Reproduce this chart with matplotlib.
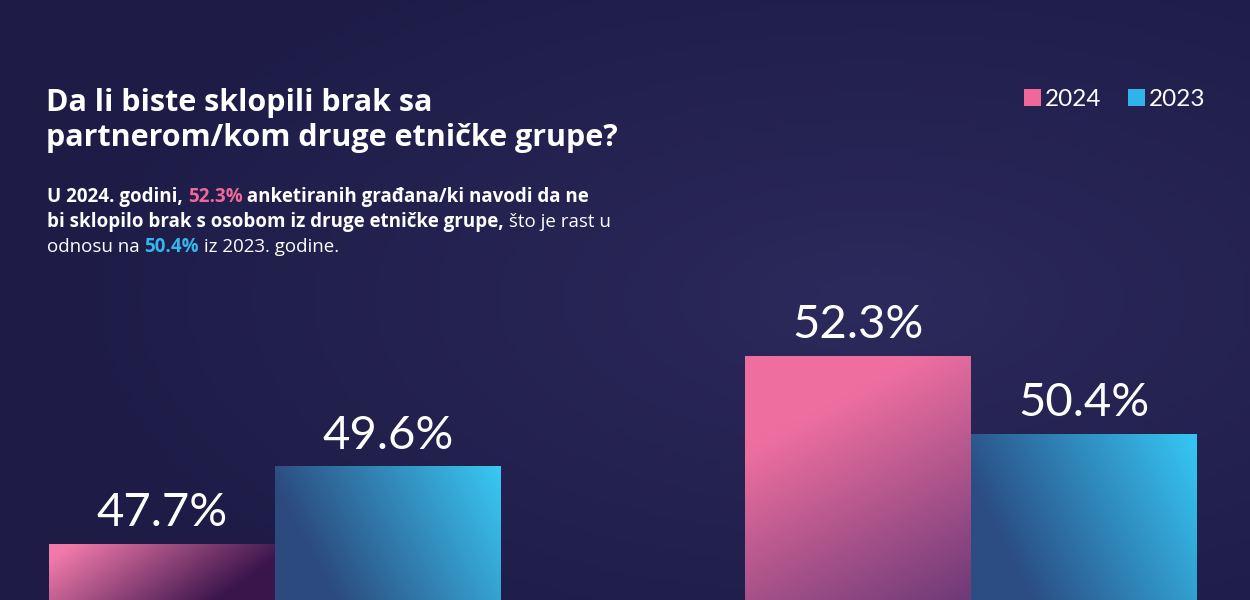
import numpy as np
import matplotlib
matplotlib.use("Agg")
import matplotlib.pyplot as plt
from matplotlib.colors import to_rgb

# data
groups = ["Da", "Ne"]
values_2024 = [47.7, 52.3]
values_2023 = [49.6, 50.4]
series_labels = ["2024", "2023"]

title = "Da li biste sklopili brak sa\npartnerom/kom druge etničke grupe?"
subtitle_lines = [
    [("U 2024. godini, ", "bold", "white"), ("52.3%", "bold", "pink"),
     (" anketiranih građana/ki navodi da ne", "bold", "white")],
    [("bi sklopilo brak s osobom iz druge etničke grupe,", "bold", "white"),
     (" što je rast u", "normal", "white")],
    [("odnosu na ", "normal", "white"), ("50.4%", "bold", "blue"),
     (" iz 2023. godine.", "normal", "white")],
]

BG = "#221f4d"
PINK = "#f0689a"
BLUE = "#2fb3ea"
text_colors = {"white": "white", "pink": "#f0689a", "blue": "#35b6ec"}

fig = plt.figure(figsize=(12.5, 6), dpi=100)
fig.patch.set_facecolor(BG)

# subtle background glow
bg_ax = fig.add_axes([0, 0, 1, 1], zorder=0)
bg_ax.axis("off")
yy, xx = np.mgrid[0:1:120j, 0:1:250j]
r = np.sqrt(((xx - 0.7) / 0.65) ** 2 + ((yy - 0.5) / 0.65) ** 2)
w = np.clip(1 - r, 0, 1)[..., None]
base = np.array(to_rgb("#1e1c47"))
glow = np.array(to_rgb("#2c295c"))
bg_ax.imshow(base * (1 - w) + glow * w, extent=[0, 1, 0, 1], aspect="auto")
bg_ax.set_xlim(0, 1)
bg_ax.set_ylim(0, 1)

ax = fig.add_axes([0, 0, 1, 1], zorder=1)
ax.patch.set_alpha(0)
ax.axis("off")

x = np.arange(len(groups))
width = 0.3247
b24 = ax.bar(x - width / 2, values_2024, width, color=PINK, label=series_labels[0])
b23 = ax.bar(x + width / 2, values_2023, width, color=BLUE, label=series_labels[1])
ax.set_xlim(-0.395, 1.401)
ax.set_ylim(46.33, 61.0)


def gradient_fill(bar, c0, c1, a, b, mid=None):
    x0 = bar.get_x()
    x1 = x0 + bar.get_width()
    ylo = ax.get_ylim()[0]
    ytop = bar.get_height()
    v, u = np.mgrid[0:1:80j, 0:1:80j]
    t = np.clip(a * u + b * v + (mid or 0), 0, 1)[..., None]
    img = np.array(to_rgb(c0)) * (1 - t) + np.array(to_rgb(c1)) * t
    im = ax.imshow(img, extent=[x0, x1, ylo, ytop], aspect="auto",
                   origin="upper", zorder=2)
    im.set_clip_path(bar)


# per-bar gradients (pink: bright -> dark purple, blue: dark steel -> cyan)
gradient_fill(b24[0], "#f27aaa", "#3a154c", 1.0, 0.35, -0.1)
gradient_fill(b24[1], "#ee6f9f", "#6e3a78", 0.45, 0.9, -0.35)
gradient_fill(b23[0], "#2c4a7e", "#39c8f4", 0.95, -0.3, 0.05)
gradient_fill(b23[1], "#2b4d84", "#35c2f0", 0.95, -0.35, 0.1)
ax.set_xlim(-0.395, 1.401)
ax.set_ylim(46.33, 61.0)

for cont in (b24, b23):
    ax.bar_label(cont, fmt="%.1f%%", padding=7, color="white",
                 fontsize=34, family="Lato")

leg = ax.legend(loc="upper right", bbox_to_anchor=(1205 / 1250, 1 - 89 / 600),
                bbox_transform=fig.transFigure, ncol=2, frameon=False,
                handlelength=0.7, handleheight=0.7, handletextpad=0.15,
                columnspacing=1.1, borderaxespad=0, borderpad=0,
                prop={"family": "Lato", "size": 17.5})
for t in leg.get_texts():
    t.set_color("white")

fig.text(46 / 1250, 1 - 88 / 600, title, color="white", fontsize=22,
         fontweight="bold", family="Open Sans", va="top", ha="left",
         linespacing=1.2)

# subtitle with coloured runs
fig.canvas.draw()
renderer = fig.canvas.get_renderer()
y_px = 197
for line in subtitle_lines:
    x_px = 47
    for txt, weight, col in line:
        t = fig.text(x_px / 1250, 1 - y_px / 600, txt, color=text_colors[col],
                     fontsize=13.5, fontweight=weight, family="Open Sans",
                     va="center", ha="left")
        bb = t.get_window_extent(renderer)
        x_px += bb.width
    y_px += 25

fig.savefig("out.png", dpi=100, facecolor=BG)
